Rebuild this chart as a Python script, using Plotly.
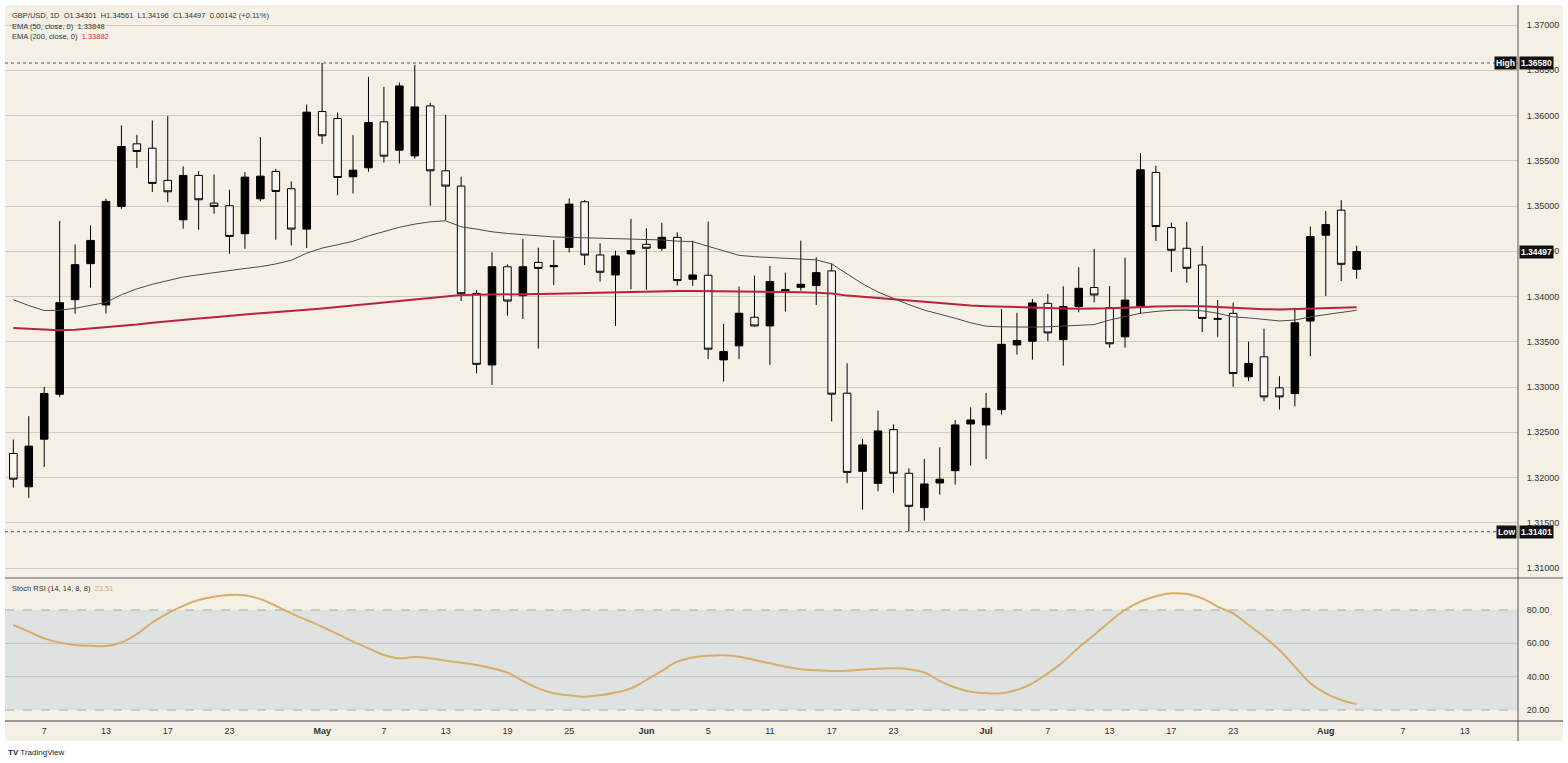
import plotly.graph_objects as go

# ---------------- data ----------------
open_ = [1.32266, 1.31898, 1.32424, 1.32920, 1.33965, 1.34363, 1.33907, 1.34996, 1.35687, 1.35639,
         1.35283, 1.34848, 1.35338, 1.35032, 1.35003, 1.34694, 1.35080, 1.35382, 1.35191, 1.34745,
         1.36044, 1.35967, 1.35323, 1.35422, 1.35930, 1.35617, 1.35554, 1.36106, 1.35389, 1.35220,
         1.34035, 1.33244, 1.34329, 1.34009, 1.34377, 1.34330, 1.34543, 1.35047, 1.34459, 1.34238,
         1.34470, 1.34577, 1.34533, 1.34654, 1.34191, 1.34235, 1.33300, 1.33455, 1.33771, 1.33675,
         1.34065, 1.34102, 1.34121, 1.34283, 1.32932, 1.32069, 1.31936, 1.32529, 1.32047, 1.31668,
         1.31940, 1.32076, 1.32592, 1.32581, 1.32750, 1.33465, 1.33506, 1.33925, 1.33524, 1.33889,
         1.34099, 1.33876, 1.33555, 1.33895, 1.35371, 1.34762, 1.34533, 1.34349, 1.33758, 1.33814,
         1.33113, 1.33334, 1.32991, 1.32928, 1.33729, 1.34677, 1.34954, 1.34301]
high_ = [1.32420, 1.32678, 1.33001, 1.34834, 1.34576, 1.34786, 1.35080, 1.35890, 1.35787, 1.35945,
         1.35993, 1.35437, 1.35386, 1.35349, 1.35180, 1.35375, 1.35761, 1.35411, 1.35272, 1.36121,
         1.36580, 1.36033, 1.35783, 1.36426, 1.36316, 1.36364, 1.36560, 1.36140, 1.36007, 1.35323,
         1.34072, 1.34488, 1.34355, 1.34635, 1.34539, 1.34624, 1.35084, 1.35065, 1.34588, 1.34507,
         1.34857, 1.34753, 1.34816, 1.34709, 1.34617, 1.34827, 1.33698, 1.34110, 1.34231, 1.34338,
         1.34264, 1.34617, 1.34433, 1.34367, 1.33263, 1.32426, 1.32739, 1.32588, 1.32102, 1.32205,
         1.32334, 1.32636, 1.32776, 1.32935, 1.33863, 1.33819, 1.33973, 1.34029, 1.34113, 1.34323,
         1.34526, 1.34116, 1.34430, 1.35585, 1.35445, 1.34817, 1.34825, 1.34559, 1.33961, 1.33932,
         1.33500, 1.33644, 1.33120, 1.33876, 1.34773, 1.34946, 1.35065, 1.34561]
low_ = [1.31890, 1.31776, 1.32118, 1.32891, 1.33811, 1.34098, 1.33811, 1.34970, 1.35419, 1.35154,
        1.35043, 1.34749, 1.34738, 1.34915, 1.34473, 1.34528, 1.35054, 1.34628, 1.34565, 1.34536,
        1.35687, 1.35120, 1.35139, 1.35378, 1.35481, 1.35470, 1.35525, 1.35003, 1.34844, 1.33950,
        1.33152, 1.33023, 1.33788, 1.33752, 1.33425, 1.34127, 1.34488, 1.34348, 1.34165, 1.33675,
        1.34080, 1.34073, 1.34507, 1.34121, 1.34117, 1.33308, 1.33061, 1.33308, 1.33668, 1.33245,
        1.33834, 1.34065, 1.33907, 1.32620, 1.31939, 1.31645, 1.31848, 1.31830, 1.31401, 1.31524,
        1.31811, 1.31922, 1.32132, 1.32205, 1.32695, 1.33358, 1.33303, 1.33506, 1.33237, 1.33826,
        1.33936, 1.33434, 1.33434, 1.33814, 1.34614, 1.34271, 1.34153, 1.33607, 1.33555, 1.33002,
        1.33065, 1.32843, 1.32751, 1.32788, 1.33341, 1.34006, 1.34172, 1.34196]
close_ = [1.31982, 1.32347, 1.32928, 1.33932, 1.34352, 1.34620, 1.35051, 1.35658, 1.35603, 1.35250,
          1.35157, 1.35338, 1.35069, 1.34996, 1.34664, 1.35319, 1.35330, 1.35161, 1.34745, 1.36037,
          1.35776, 1.35315, 1.35396, 1.35922, 1.35551, 1.36327, 1.36095, 1.35389, 1.35220, 1.34031,
          1.33251, 1.34329, 1.33950, 1.34329, 1.34311, 1.34340, 1.35021, 1.34458, 1.34268, 1.34448,
          1.34507, 1.34533, 1.34654, 1.34176, 1.34238, 1.33418, 1.33392, 1.33815, 1.33675, 1.34165,
          1.34075, 1.34135, 1.34264, 1.32921, 1.32057, 1.32360, 1.32515, 1.32047, 1.31682, 1.31929,
          1.31981, 1.32581, 1.32636, 1.32765, 1.33472, 1.33513, 1.33929, 1.33598, 1.33889, 1.34091,
          1.34017, 1.33478, 1.33961, 1.35400, 1.34773, 1.34511, 1.34312, 1.33758, 1.33750, 1.33149,
          1.33260, 1.32891, 1.32891, 1.33710, 1.34662, 1.34795, 1.34356, 1.34497]

ema50 = [1.33965, 1.33900, 1.33845, 1.33848, 1.33870, 1.33900, 1.33935, 1.34020, 1.34085, 1.34135,
         1.34175, 1.34216, 1.34240, 1.34265, 1.34289, 1.34310, 1.34330, 1.34360, 1.34400, 1.34480,
         1.34535, 1.34570, 1.34610, 1.34670, 1.34715, 1.34765, 1.34800, 1.34825, 1.34837, 1.34770,
         1.34745, 1.34715, 1.34697, 1.34683, 1.34665, 1.34658, 1.34654, 1.34650, 1.34646, 1.34642,
         1.34638, 1.34634, 1.34625, 1.34612, 1.34606, 1.34555, 1.34505, 1.34455, 1.34440, 1.34430,
         1.34420, 1.34413, 1.34405, 1.34360, 1.34250, 1.34140, 1.34050, 1.33980, 1.33910, 1.33850,
         1.33808, 1.33760, 1.33710, 1.33672, 1.33665, 1.33660, 1.33662, 1.33666, 1.33672, 1.33680,
         1.33690, 1.33740, 1.33780, 1.33815, 1.33835, 1.33848, 1.33850, 1.33842, 1.33815, 1.33775,
         1.33764, 1.33745, 1.33730, 1.33740, 1.33775, 1.33800, 1.33825, 1.33848]
ema200 = [1.33653, 1.33642, 1.33632, 1.33628, 1.33632, 1.33645, 1.33660, 1.33672, 1.33690, 1.33710,
          1.33728, 1.33742, 1.33757, 1.33772, 1.33790, 1.33802, 1.33815, 1.33826, 1.33838, 1.33853,
          1.33868, 1.33885, 1.33902, 1.33918, 1.33935, 1.33952, 1.33970, 1.33988, 1.34008, 1.34018,
          1.34020, 1.34020, 1.34021, 1.34024, 1.34027, 1.34030, 1.34034, 1.34038, 1.34043, 1.34048,
          1.34053, 1.34058, 1.34062, 1.34062, 1.34061, 1.34060, 1.34059, 1.34058, 1.34057, 1.34055,
          1.34054, 1.34048, 1.34042, 1.34034, 1.34010, 1.33996, 1.33982, 1.33966, 1.33952, 1.33938,
          1.33925, 1.33912, 1.33900, 1.33893, 1.33887, 1.33880, 1.33875, 1.33872, 1.33869, 1.33866,
          1.33865, 1.33870, 1.33876, 1.33885, 1.33890, 1.33893, 1.33895, 1.33893, 1.33885, 1.33875,
          1.33866, 1.33860, 1.33858, 1.33862, 1.33868, 1.33874, 1.33879, 1.33882]
stoch_rsi = [71, 67, 63, 60.5, 59, 58.5, 58.4, 60.5, 65.5, 72.5,
             78, 82.5, 86, 88, 89, 88.8, 86.5, 82.5, 78, 74,
             70, 65.5, 61, 57, 53, 51, 51.8, 51, 49.6, 48.3,
             47, 45, 42.4, 37.5, 33, 30, 28.8, 28, 28.8, 30.5,
             33, 38, 43.5, 49, 51.5, 52.5, 52.8, 52, 50, 48,
             46, 44.5, 43.8, 43.4, 43.6, 44.2, 44.8, 45, 44.5, 42.5,
             37.5, 33.5, 31, 30, 30, 32, 36, 42, 49, 57.5,
             65, 73, 80, 85, 88.3, 90, 89.6, 87, 82, 78,
             71, 64, 56, 46, 36, 30, 26, 23.51]

tick_bars = [2, 6, 10, 14, 20, 24, 28, 32, 36, 41, 45, 49, 53, 57, 63, 67, 71, 75, 79, 85, 90, 94]
tick_text = ["7", "13", "17", "23", "<b>May</b>", "7", "13", "19", "25", "<b>Jun</b>", "5", "11",
             "17", "23", "<b>Jul</b>", "7", "13", "17", "23", "<b>Aug</b>", "7", "13"]
price_ticks = [1.310, 1.315, 1.320, 1.325, 1.330, 1.335, 1.340, 1.345, 1.350, 1.355, 1.360, 1.365, 1.370]
rsi_ticks = [20, 40, 60, 80]

period_high = 1.36580
period_low = 1.31401
last_price = 1.34497

bars = list(range(len(close_)))

# ---------------- styling ----------------
CREAM = "#F4F0E6"
BAND = "#DEE3E2"
GRID = "#CFCCC3"
TXT = "#333333"
FONT = "Liberation Sans, Arial, sans-serif"
W, H = 1568, 763
ML, MR, MT, MB = 5, 50, 5, 42
PH = H - MT - MB
SPLIT = 143 / PH          # lower-panel height fraction
XR = (1563 - ML) / (W - ML - MR)
YB = -20 / PH

fig = go.Figure()

fig.add_trace(go.Candlestick(
    x=bars, open=open_, high=high_, low=low_, close=close_,
    increasing=dict(line=dict(color="#000000", width=1), fillcolor="#000000"),
    decreasing=dict(line=dict(color="#000000", width=1), fillcolor="#F9F7F1"),
    whiskerwidth=0, showlegend=False, hoverinfo="skip",
    xaxis="x", yaxis="y"))

fig.add_trace(go.Scatter(x=bars, y=ema200, mode="lines",
                         line=dict(color="#B8243C", width=2),
                         showlegend=False, hoverinfo="skip", xaxis="x", yaxis="y"))
fig.add_trace(go.Scatter(x=bars, y=ema50, mode="lines",
                         line=dict(color="#4A4A4A", width=1),
                         showlegend=False, hoverinfo="skip", xaxis="x", yaxis="y"))
fig.add_trace(go.Scatter(x=bars, y=stoch_rsi, mode="lines", line_shape="spline",
                         line=dict(color="#D7AE66", width=2),
                         showlegend=False, hoverinfo="skip", xaxis="x", yaxis="y2"))

shapes = [
    dict(type="rect", xref="paper", yref="paper", x0=0, x1=XR, y0=YB, y1=1,
         fillcolor=CREAM, line=dict(width=0), layer="below"),
    dict(type="rect", xref="x domain", yref="y2", x0=0, x1=1, y0=20, y1=80,
         fillcolor=BAND, line=dict(width=0), layer="below"),
]
for v in (40, 60):
    shapes.append(dict(type="line", xref="x domain", yref="y2", x0=0, x1=1, y0=v, y1=v,
                       line=dict(color="#BFC3C2", width=1), layer="below"))
for v in (20, 80):
    shapes.append(dict(type="line", xref="x domain", yref="y2", x0=0, x1=1, y0=v, y1=v,
                       line=dict(color="#A9A9A6", width=1, dash="dash"), layer="below"))
for v in (period_high, last_price, period_low):
    shapes.append(dict(type="line", xref="x domain", yref="y", x0=0, x1=1, y0=v, y1=v,
                       line=dict(color="#555555", width=1, dash="dot"), layer="below"))
shapes += [
    dict(type="line", xref="paper", yref="paper", x0=0, x1=XR, y0=SPLIT, y1=SPLIT,
         line=dict(color="#8C8C8C", width=1.5), layer="above"),
    dict(type="line", xref="paper", yref="paper", x0=0, x1=XR, y0=0, y1=0,
         line=dict(color="#7A7A7A", width=1.5), layer="above"),
    dict(type="line", xref="paper", yref="paper", x0=1, x1=1, y0=YB, y1=1,
         line=dict(color="#555555", width=1), layer="above"),
]

LF = 7.5
ann = []
ann.append(dict(xref="paper", yref="paper", x=0, y=1, xanchor="left", yanchor="middle",
                xshift=5, yshift=-10, showarrow=False,
                text="GBP/USD, 1D  O1.34301  H1.34561  L1.34196  C1.34497  0.00142 (+0.11%)",
                font=dict(size=LF, color=TXT, family=FONT)))
ann.append(dict(xref="paper", yref="paper", x=0, y=1, xanchor="left", yanchor="middle",
                xshift=5, yshift=-21, showarrow=False,
                text="EMA (50, close, 0)  1.33848",
                font=dict(size=LF, color=TXT, family=FONT)))
ann.append(dict(xref="paper", yref="paper", x=0, y=1, xanchor="left", yanchor="middle",
                xshift=5, yshift=-31, showarrow=False,
                text="EMA (200, close, 0)  <span style='color:#C0334A'>1.33882</span>",
                font=dict(size=LF, color=TXT, family=FONT)))
ann.append(dict(xref="paper", yref="paper", x=0, y=SPLIT, xanchor="left", yanchor="middle",
                xshift=5, yshift=-10, showarrow=False,
                text="Stoch RSI (14, 14, 8, 8)  <span style='color:#D7AE66'>23.51</span>",
                font=dict(size=LF, color=TXT, family=FONT)))
ann.append(dict(xref="paper", yref="paper", x=0, y=YB, xanchor="left", yanchor="middle",
                xshift=1, yshift=-11, showarrow=False,
                text="<b>TV</b> TradingView",
                font=dict(size=8, color="#222222", family=FONT)))

def badge(y, text, side):
    return dict(xref="paper", yref="y", x=1, y=y,
                xanchor="left" if side == "r" else "right", yanchor="middle",
                xshift=1 if side == "r" else -1, showarrow=False, text=text,
                bgcolor="#111111", borderpad=1,
                font=dict(size=8.5, color="#FFFFFF", family=FONT))

ann += [badge(period_high, "<b>1.36580</b>", "r"), badge(period_high, "<b>High</b>", "l"),
        badge(last_price, "<b>1.34497</b>", "r"),
        badge(period_low, "<b>1.31401</b>", "r"), badge(period_low, "<b>Low</b>", "l")]

TF = 9
fig.update_layout(
    width=W, height=H,
    margin=dict(l=ML, r=MR, t=MT, b=MB, pad=0),
    paper_bgcolor="#FFFFFF", plot_bgcolor="rgba(0,0,0,0)",
    font=dict(family=FONT, color=TXT),
    showlegend=False,
    shapes=shapes, annotations=ann,
    xaxis=dict(range=[-0.54, 97.45], tickmode="array", tickvals=tick_bars, ticktext=tick_text,
               showgrid=False, zeroline=False, showline=False, anchor="y2",
               ticks="outside", ticklen=1, tickcolor="rgba(0,0,0,0)",
               tickfont=dict(size=TF, color=TXT, family=FONT),
               rangeslider=dict(visible=False), fixedrange=True),
    yaxis=dict(domain=[SPLIT, 1], range=[1.30890, 1.37221], side="right",
               tickmode="array", tickvals=price_ticks, tickformat=".5f",
               showgrid=True, gridcolor=GRID, gridwidth=1, zeroline=False, showline=False,
               ticks="outside", ticklen=6, tickcolor="rgba(0,0,0,0)",
               tickfont=dict(size=TF, color=TXT, family=FONT), anchor="x", automargin=False),
    yaxis2=dict(domain=[0, SPLIT], range=[13.4, 99.2], side="right",
                tickmode="array", tickvals=rsi_ticks, tickformat=".2f",
                showgrid=False, zeroline=False, showline=False,
                ticks="outside", ticklen=6, tickcolor="rgba(0,0,0,0)",
                tickfont=dict(size=TF, color=TXT, family=FONT), anchor="x", automargin=False),
)

fig.write_html("out.html", config={"displayModeBar": False},
               post_script="document.body.style.margin='0px';")
